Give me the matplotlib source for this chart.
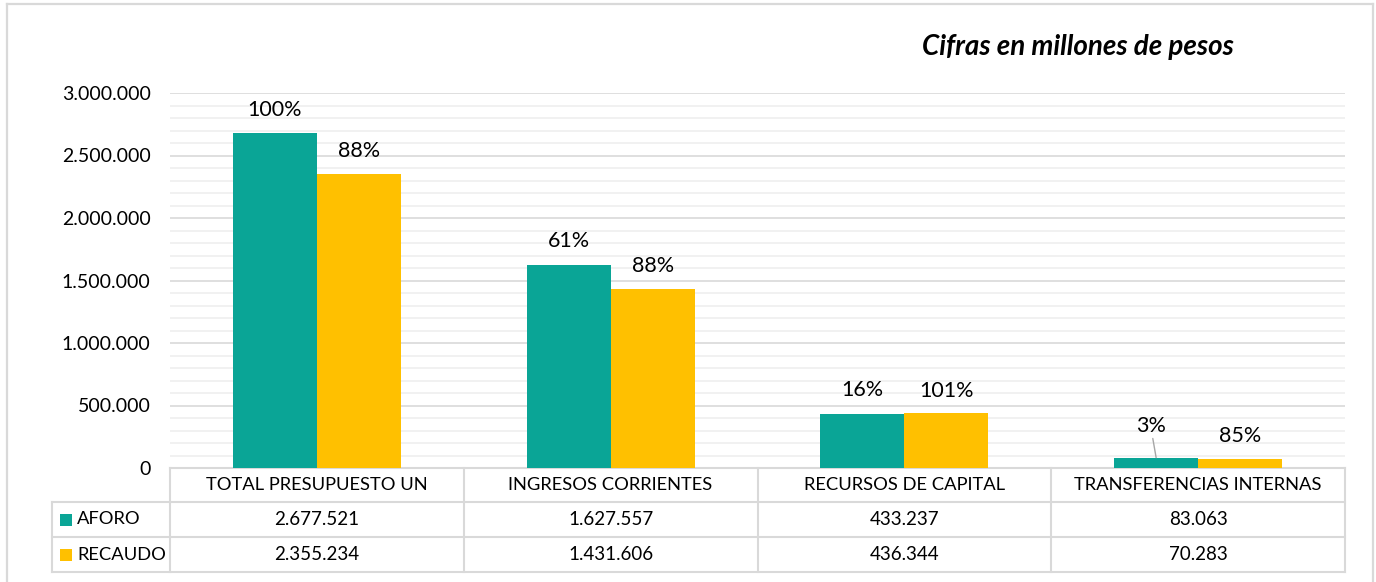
import matplotlib.pyplot as plt
import matplotlib.transforms as mtransforms
from matplotlib.lines import Line2D
from matplotlib.patches import Rectangle
from matplotlib.ticker import MultipleLocator, FuncFormatter
import numpy as np

# datos
categorias = ["TOTAL PRESUPUESTO UN", "INGRESOS CORRIENTES",
              "RECURSOS DE CAPITAL", "TRANSFERENCIAS INTERNAS"]
series = ["AFORO", "RECAUDO"]
aforo = [2677521, 1627557, 433237, 83063]
recaudo = [2355234, 1431606, 436344, 70283]
aforo_pct = ["100%", "61%", "16%", "3%"]
recaudo_pct = ["88%", "88%", "101%", "85%"]

VERDE = "#0AA596"
AMARILLO = "#FFC000"
GRIS = "#D9D9D9"
GRIS_CLARO = "#EFEFEF"

plt.rcParams['font.family'] = ['Lato', 'DejaVu Sans']

W, H = 1376, 582
fig = plt.figure(figsize=(W / 100, H / 100), dpi=100)
ax = fig.add_axes([170 / W, 1 - 468 / H, 1175 / W, 375 / H])


def miles(v, pos=None):
    return f"{v:,.0f}".replace(",", ".")


x = np.arange(len(categorias))
w = 84 / 293.75
b1 = ax.bar(x - w / 2, aforo, w, color=VERDE, zorder=3)
b2 = ax.bar(x + w / 2, recaudo, w, color=AMARILLO, zorder=3)

ax.set_xlim(-0.5, len(categorias) - 0.5)
ax.set_ylim(0, 3000000)
ax.yaxis.set_major_locator(MultipleLocator(500000))
ax.yaxis.set_minor_locator(MultipleLocator(100000))
ax.yaxis.set_major_formatter(FuncFormatter(miles))
ax.grid(axis='y', which='minor', color=GRIS_CLARO, lw=1.2, zorder=0)
ax.grid(axis='y', which='major', color=GRIS, lw=1.2, zorder=1)
ax.tick_params(axis='y', which='both', length=0, pad=14, labelsize=14)
ax.tick_params(axis='x', length=0, labelbottom=False)
for s in ax.spines.values():
    s.set_visible(False)

# etiquetas de porcentaje
for i in range(len(categorias)):
    if aforo[i] < 150000:
        ax.annotate(aforo_pct[i], (x[i] - w / 2, aforo[i]), xytext=(-4, 23),
                    textcoords='offset points', ha='center', va='center', fontsize=15.5,
                    arrowprops=dict(arrowstyle='-', color='#A6A6A6', lw=1,
                                    shrinkA=0, shrinkB=0, relpos=(0.5, 0.5)))
    else:
        ax.annotate(aforo_pct[i], (x[i] - w / 2, aforo[i]), xytext=(0, 17),
                    textcoords='offset points', ha='center', va='center', fontsize=15.5)
    ax.annotate(recaudo_pct[i], (x[i] + w / 2, recaudo[i]), xytext=(0, 16.5),
                textcoords='offset points', ha='center', va='center', fontsize=15.5)

# tabla de datos
tr = mtransforms.blended_transform_factory(ax.transData, ax.transAxes)
alto = 375
y_filas = [0, -34 / alto, -69 / alto, -104 / alto]
x_izq = -0.5 - 118 / 293.75
x_der = len(categorias) - 0.5
lk = dict(color=GRIS, lw=1.5, transform=tr, clip_on=False)
ax.add_line(Line2D([-0.5, x_der], [y_filas[0]] * 2, **lk))
for yy in y_filas[1:]:
    ax.add_line(Line2D([x_izq, x_der], [yy] * 2, **lk))
for xx in np.arange(-0.5, x_der + 0.01, 1.0):
    ax.add_line(Line2D([xx, xx], [y_filas[0], y_filas[-1]], **lk))
ax.add_line(Line2D([x_izq, x_izq], [y_filas[1], y_filas[-1]], **lk))

for i, c in enumerate(categorias):
    ax.text(x[i], (y_filas[0] + y_filas[1]) / 2, c, transform=tr,
            ha='center', va='center', fontsize=13.2)
for j, (nombre, vals, col) in enumerate(zip(series, [aforo, recaudo], [VERDE, AMARILLO])):
    yc = (y_filas[j + 1] + y_filas[j + 2]) / 2
    for i, v in enumerate(vals):
        ax.text(x[i], yc, miles(v), transform=tr, ha='center', va='center', fontsize=13.5)
    # cuadro de leyenda
    fy = 1 - (468 - yc * alto) / H
    fig.add_artist(Rectangle((60 / W, fy - 6 / H), 12 / W, 12 / H,
                             facecolor=col, edgecolor='none', transform=fig.transFigure))
    fig.text(77 / W, fy, nombre, ha='left', va='center', fontsize=13.2)

# titulo
fig.text(1078 / W, 1 - 47 / H, "Cifras en millones de pesos", ha='center', va='center',
         fontsize=20, fontweight='bold', fontstyle='italic')

# marco
mk = dict(color=GRIS, lw=1.6, transform=fig.transFigure)
fig.add_artist(Line2D([7 / W, 7 / W], [0, 1 - 4 / H], **mk))
fig.add_artist(Line2D([7 / W, 1373 / W], [1 - 4 / H, 1 - 4 / H], **mk))
fig.add_artist(Line2D([1373 / W, 1373 / W], [0, 1 - 4 / H], **mk))

fig.savefig("out.png", dpi=100, facecolor='white')
